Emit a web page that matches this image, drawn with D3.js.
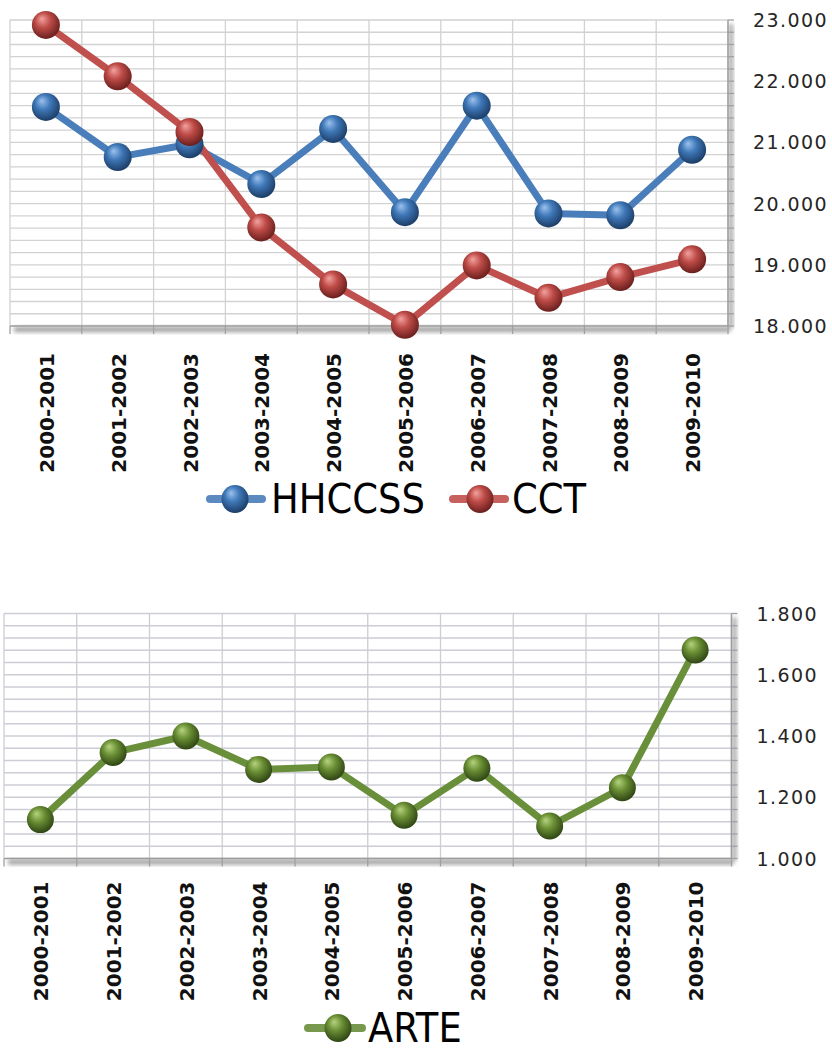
<!DOCTYPE html>
<html>
<head>
<meta charset="utf-8">
<script src="https://cdn.jsdelivr.net/npm/d3@7"></script>
<style>
  html, body { margin: 0; padding: 0; background: #ffffff; }
  svg { display: block; }
  .ylab { font-family: "DejaVu Sans", sans-serif; font-size: 19px; letter-spacing: 1.4px; fill: #262626; }
  .xlab { font-family: "DejaVu Sans", sans-serif; font-weight: bold; font-size: 20px; fill: #111; }
  .leg  { font-family: "Liberation Sans Narrow", "DejaVu Sans Condensed", sans-serif; font-stretch: condensed; font-size: 41px; fill: #000; }
</style>
</head>
<body>
<svg id="chart" width="832" height="1051"></svg>
<script>
// School years on the horizontal axis
const categories = ["2000-2001","2001-2002","2002-2003","2003-2004","2004-2005",
                    "2005-2006","2006-2007","2007-2008","2008-2009","2009-2010"];

// Upper chart series
const hhccssValues = [21580, 20760, 20970, 20320, 21220, 19860, 21600, 19840, 19810, 20880];
const cctValues    = [22920, 22080, 21170, 19610, 18680, 18020, 18990, 18460, 18800, 19090];
const upperTicks   = [18000, 19000, 20000, 21000, 22000, 23000];

// Lower chart series
const arteValues   = [1127, 1346, 1400, 1291, 1299, 1141, 1295, 1106, 1231, 1681];
const lowerTicks   = [1000, 1200, 1400, 1600, 1800];

const locale = d3.formatLocale({ decimal: ",", thousands: ".", grouping: [3], currency: ["", "€"] });
const fmt = locale.format(",.0f");

const svg = d3.select("#chart");
const defs = svg.append("defs");

// Blur used for the axis shadows
defs.append("filter").attr("id", "soft").attr("x", "-50%").attr("y", "-50%").attr("width", "200%").attr("height", "200%")
  .append("feGaussianBlur").attr("stdDeviation", 2.2);

// Glossy sphere gradients for the markers
function sphereGradient(id, light, mid, dark) {
  const g = defs.append("radialGradient").attr("id", id)
    .attr("cx", "45%").attr("cy", "40%").attr("r", "60%")
    .attr("fx", "35%").attr("fy", "28%");
  g.append("stop").attr("offset", "0%").attr("stop-color", light);
  g.append("stop").attr("offset", "45%").attr("stop-color", mid);
  g.append("stop").attr("offset", "100%").attr("stop-color", dark);
}
sphereGradient("ballBlue",  "#9cc2ee", "#3f78b8", "#1c3d66");
sphereGradient("ballRed",   "#f2a3a0", "#bf4c48", "#6a1f1d");
sphereGradient("ballGreen", "#b6d37e", "#6a8f34", "#2f4514");

function drawChart(opt) {
  const g = svg.append("g");
  const x = d3.scaleBand().domain(categories).range([opt.left, opt.right]).padding(0);
  const y = d3.scaleLinear().domain(opt.domain).range([opt.bottom, opt.top]);
  const cx = c => x(c) + x.bandwidth() / 2;

  // horizontal grid (minor steps)
  const gridVals = d3.range(opt.domain[0], opt.domain[1] + opt.minor / 2, opt.minor);
  g.append("g").selectAll("line").data(gridVals.slice(1)).join("line")
    .attr("x1", opt.left).attr("x2", opt.right)
    .attr("y1", d => y(d)).attr("y2", d => y(d))
    .attr("stroke", opt.gridColor).attr("stroke-width", 1.3);

  // vertical grid on category boundaries
  const bounds = categories.map(c => x(c)).concat([opt.right]);
  g.append("g").selectAll("line").data(bounds.slice(0, -1)).join("line")
    .attr("x1", d => d).attr("x2", d => d)
    .attr("y1", opt.top).attr("y2", opt.bottom)
    .attr("stroke", opt.gridColor).attr("stroke-width", 1.3);

  // shadows for the axes
  g.append("rect")
    .attr("x", opt.left + 4).attr("y", opt.bottom + 1)
    .attr("width", opt.right - opt.left - 2).attr("height", 5)
    .attr("fill", "#7a7a7a").attr("opacity", 0.75).attr("filter", "url(#soft)");
  g.append("rect")
    .attr("x", opt.right + 1).attr("y", opt.top + 4)
    .attr("width", 4).attr("height", opt.bottom - opt.top - 2)
    .attr("fill", "#7a7a7a").attr("opacity", 0.7).attr("filter", "url(#soft)");

  // bottom axis line and ticks
  g.append("line").attr("x1", opt.left).attr("x2", opt.right)
    .attr("y1", opt.bottom).attr("y2", opt.bottom)
    .attr("stroke", "#9c9c9c").attr("stroke-width", 1.5);
  g.append("g").selectAll("line").data(bounds).join("line")
    .attr("x1", d => d).attr("x2", d => d)
    .attr("y1", opt.bottom).attr("y2", opt.bottom + 8)
    .attr("stroke", "#a0a0a0").attr("stroke-width", 1.3);

  // right value axis line and ticks
  g.append("line").attr("x1", opt.right).attr("x2", opt.right)
    .attr("y1", opt.top).attr("y2", opt.bottom)
    .attr("stroke", "#9c9c9c").attr("stroke-width", 1.5);
  g.append("g").selectAll("line").data(gridVals).join("line")
    .attr("x1", opt.right).attr("x2", opt.right + 6)
    .attr("y1", d => y(d)).attr("y2", d => y(d))
    .attr("stroke", "#a0a0a0").attr("stroke-width", 1.3);

  // value labels
  g.append("g").selectAll("text").data(opt.ticks).join("text")
    .attr("class", "ylab")
    .attr("x", opt.right + 25).attr("y", d => y(d))
    .attr("dominant-baseline", "central")
    .text(d => fmt(d));

  // category labels, rotated
  g.append("g").selectAll("text").data(categories).join("text")
    .attr("class", "xlab")
    .attr("text-anchor", "end")
    .attr("dominant-baseline", "central")
    .attr("transform", c => `translate(${cx(c) + 1},${opt.bottom + opt.labelGap}) rotate(-90)`)
    .text(c => c);

  // series lines then markers
  const line = d3.line().x((d, i) => cx(categories[i])).y(d => y(d));
  opt.series.forEach(s => {
    g.append("path").datum(s.values)
      .attr("d", line).attr("fill", "none")
      .attr("stroke", s.color).attr("stroke-width", 7)
      .attr("stroke-linejoin", "round").attr("stroke-linecap", "round");
  });
  opt.series.forEach(s => {
    g.append("g").selectAll("circle").data(s.values).join("circle")
      .attr("cx", (d, i) => cx(categories[i])).attr("cy", d => y(d))
      .attr("r", opt.ballR).attr("fill", `url(#${s.ball})`);
  });

  // legend
  opt.legend.forEach(l => {
    const s = opt.series.find(q => q.name === l.name);
    g.append("line").attr("x1", l.x1).attr("x2", l.x2).attr("y1", l.y).attr("y2", l.y)
      .attr("stroke", s.color).attr("stroke-width", 8).attr("stroke-linecap", "round").attr("opacity", 0.9);
    g.append("ellipse").attr("cx", l.bx).attr("cy", l.y).attr("rx", 13.5).attr("ry", 14)
      .attr("fill", `url(#${s.ball})`);
    g.append("text").attr("class", "leg").attr("x", l.tx).attr("y", l.baseline).text(s.name);
  });
}

drawChart({
  left: 10, right: 728, top: 20, bottom: 326,
  domain: [18000, 23000], minor: 200, ticks: upperTicks,
  gridColor: "#d2d2d2", labelGap: 27, ballR: 14,
  series: [
    { name: "HHCCSS", values: hhccssValues, color: "#4a7ebb", ball: "ballBlue" },
    { name: "CCT",    values: cctValues,    color: "#c0504d", ball: "ballRed" }
  ],
  legend: [
    { name: "HHCCSS", x1: 210, x2: 262, y: 499, bx: 235, tx: 271, baseline: 513 },
    { name: "CCT",    x1: 453, x2: 505, y: 499, bx: 480, tx: 512, baseline: 513 }
  ]
});

drawChart({
  left: 4, right: 731.5, top: 613.5, bottom: 858.5,
  domain: [1000, 1800], minor: 40, ticks: lowerTicks,
  gridColor: "#cdcdd6", labelGap: 23, ballR: 13.5,
  series: [
    { name: "ARTE", values: arteValues, color: "#6a8f3a", ball: "ballGreen" }
  ],
  legend: [
    { name: "ARTE", x1: 308, x2: 362, y: 1028, bx: 338, tx: 368, baseline: 1042 }
  ]
});
</script>
</body>
</html>
